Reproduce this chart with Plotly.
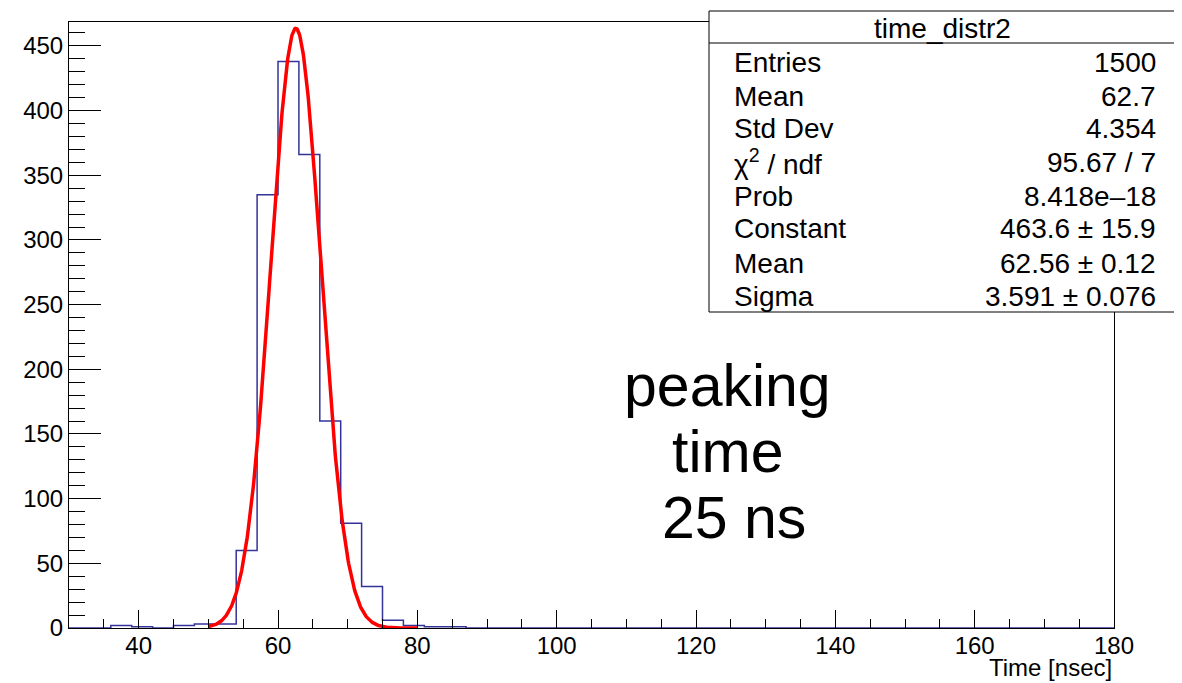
import numpy as np
import plotly.graph_objects as go

# ---- data ----
bin_low = 30.0
bin_width = 3.0
bin_counts = [0, 0, 2, 1, 0, 2, 3, 3, 60, 335, 438, 366, 160, 81, 32, 6, 2, 1, 1] + [0] * 31

fit_constant = 463.6
fit_mean = 62.56
fit_sigma = 3.591
fit_range = (50.0, 80.0)

stats_title = "time_distr2"
stats_labels = ["Entries", "Mean", "Std Dev", "χ<sup>2</sup> / ndf", "Prob", "Constant", "Mean", "Sigma"]
stats_values = ["1500", "62.7", "4.354", "95.67 / 7", "8.418e–18", "463.6 ± 15.9", "62.56 ± 0.12", "3.591 ± 0.076"]

text_lines = ["peaking", "time", "25 ns"]
x_title = "Time [nsec]"

# ---- build step arrays ----
edges = [bin_low + i * bin_width for i in range(len(bin_counts) + 1)]
step_x = edges
step_y = list(bin_counts) + [bin_counts[-1]]

fx = np.linspace(fit_range[0], fit_range[1], 400)
fy = fit_constant * np.exp(-0.5 * ((fx - fit_mean) / fit_sigma) ** 2)

# ---- layout geometry (pixels, in screenshot coordinates) ----
OFF = 8  # page body margin
W, H = 1182 - OFF, 683 - OFF
L, R, T, B = 69, 1114, 22, 628
pw, ph = R - L, B - T


def px(x):
    return (x - L) / pw


def py(y):
    return (B - y) / ph


FONT = "Liberation Sans, Arial, sans-serif"

fig = go.Figure()
fig.add_trace(go.Scatter(x=step_x, y=step_y, mode="lines", line=dict(shape="hv", color="#333399", width=1.5),
                         hoverinfo="skip", showlegend=False))
fig.add_trace(go.Scatter(x=fx, y=fy, mode="lines", line=dict(color="#ff0000", width=3.5),
                         hoverinfo="skip", showlegend=False))

shapes = []
# stats box
bx0, bx1, by0, by1 = 709, 1177, 11, 312
shapes.append(dict(type="rect", xref="paper", yref="paper", x0=px(bx0), x1=px(bx1), y0=py(by1), y1=py(by0),
                   line=dict(color="black", width=1), fillcolor="white", layer="above"))
shapes.append(dict(type="line", xref="paper", yref="paper", x0=px(bx0), x1=px(bx1), y0=py(43), y1=py(43),
                   line=dict(color="black", width=1), layer="above"))

annotations = []
annotations.append(dict(text=stats_title, xref="paper", yref="paper", x=px(943), y=py(28),
                        xanchor="center", yanchor="middle", showarrow=False,
                        font=dict(family=FONT, size=28, color="black")))
row_y = [62, 96, 129, 162, 196, 229, 263, 296]
for lab, val, yy in zip(stats_labels, stats_values, row_y):
    annotations.append(dict(text=lab, xref="paper", yref="paper", x=px(732), y=py(yy),
                            xanchor="left", yanchor="middle", showarrow=False,
                            font=dict(family=FONT, size=28, color="black")))
    annotations.append(dict(text=val, xref="paper", yref="paper", x=px(1158), y=py(yy),
                            xanchor="right", yanchor="middle", showarrow=False,
                            font=dict(family=FONT, size=28, color="black")))

text_pos = [(727.5, 386), (727.5, 452), (734, 518)]
for t, (xx, yy) in zip(text_lines, text_pos):
    annotations.append(dict(text=t, xref="paper", yref="paper", x=px(xx), y=py(yy),
                            xanchor="center", yanchor="middle", showarrow=False,
                            font=dict(family=FONT, size=59, color="black")))

annotations.append(dict(text=x_title, xref="paper", yref="paper", x=px(1114), y=py(667),
                        xanchor="right", yanchor="middle", showarrow=False,
                        font=dict(family=FONT, size=24, color="black")))

fig.update_layout(
    width=W, height=H,
    margin=dict(l=L - OFF, r=W - (R - OFF), t=T - OFF, b=H - (B - OFF), pad=0),
    paper_bgcolor="white", plot_bgcolor="white",
    shapes=shapes, annotations=annotations,
    font=dict(family=FONT, size=24, color="black"),
    xaxis=dict(range=[30, 180], tick0=0, dtick=20, ticks="inside", ticklen=18, tickwidth=1, tickcolor="black",
               showline=True, linecolor="black", linewidth=1, mirror=True, showgrid=False, zeroline=False,
               ticklabelstandoff=-4,
               minor=dict(dtick=5, ticks="inside", ticklen=9, tickwidth=1, tickcolor="black", showgrid=False),
               tickfont=dict(family=FONT, size=24, color="black")),
    yaxis=dict(range=[0, 468.5], tick0=0, dtick=50, ticks="inside", ticklen=32, tickwidth=1, tickcolor="black",
               showline=True, linecolor="black", linewidth=1, mirror=True, showgrid=False, zeroline=False,
               minor=dict(dtick=10, ticks="inside", ticklen=16, tickwidth=1, tickcolor="black", showgrid=False),
               tickfont=dict(family=FONT, size=24, color="black")),
)

fig.write_html("out.html")
